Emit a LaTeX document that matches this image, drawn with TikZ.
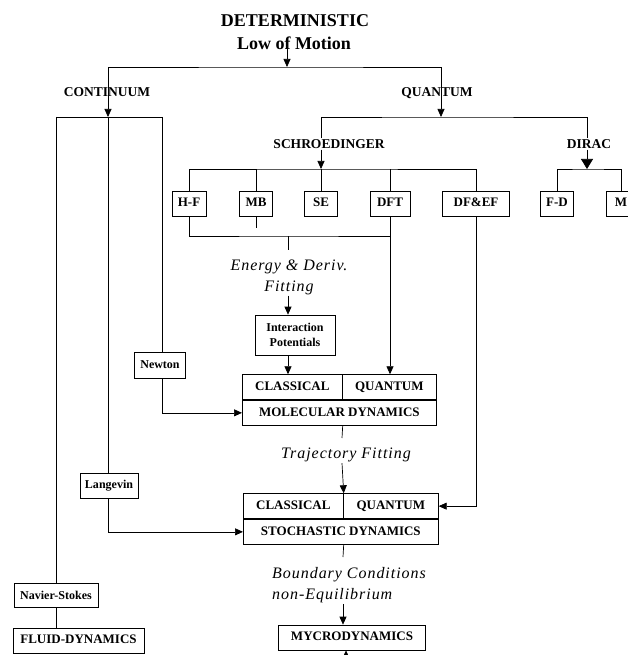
\documentclass[tikz,border=0pt]{standalone}
\usepackage{fontspec}
\setmainfont{Liberation Serif}
\newfontfamily\notefont[LetterSpace=6]{Liberation Serif}
\usetikzlibrary{arrows.meta}
\tikzstyle{heading} = [font=\bfseries\fontsize{18}{21}\selectfont, inner sep=1pt]
\tikzstyle{branch} = [font=\bfseries\fontsize{13.5}{16}\selectfont, inner sep=1pt]
\tikzstyle{method} = [rectangle, draw, line width=0.7pt, text centered, font=\bfseries\fontsize{13}{15}\selectfont, text height=9pt, text depth=2.5pt, minimum height=25pt, inner sep=2pt]
\tikzstyle{named} = [rectangle, draw, line width=0.7pt, align=center, font=\bfseries\fontsize{12}{15}\selectfont, inner sep=2pt]
\tikzstyle{fitting} = [font=\notefont\itshape\fontsize{16}{21}\selectfont, inner sep=1pt]
\tikzstyle{link} = [line width=0.7pt]
\tikzstyle{connector} = [line width=0.7pt, -{Triangle[length=8pt,width=7pt]}]

\begin{document}
\begin{tikzpicture}[x=1pt, y=-1pt]
        \useasboundingbox (0,0) rectangle (628,655);
        \node (det) [heading] at (295,21) {DETERMINISTIC};
        \node (motion) [heading] at (294,43) {Low of Motion};
        \node (cont) [branch] at (107,92) {CONTINUUM};
        \node (quant) [branch] at (437,93) {QUANTUM};
        \node (schr) [branch] at (329,144) {SCHROEDINGER};
        \node (dirac) [branch] at (589,144) {DIRAC};
        \coordinate (top) at (287,67);
        \coordinate (cbar) at (108,117);
        \coordinate (cleft) at (56,117);
        \coordinate (cright) at (162,117);
        \coordinate (qbar) at (441,117);
        \coordinate (sbar) at (321,169);
        \coordinate (dbar) at (587,169);
        \coordinate (ebar) at (288,236);
        \coordinate (estub) at (288,250);
        \coordinate (mbend) at (256,228);
        \coordinate (tstub) at (342,438);
        \coordinate (bstub) at (343,557);
        \coordinate (below) at (346,680);
        % methods under the two wave equations
        \node (hf) [method, minimum width=34pt] at (189,203.5) {H-F};
        \node (mb) [method, minimum width=33pt] at (256,203.5) {MB};
        \node (se) [method, minimum width=33pt] at (321,203.5) {SE};
        \node (dft) [method, minimum width=40pt] at (390,203.5) {DFT};
        \node (dfef) [method, minimum width=67pt] at (476,203.5) {DF\&EF};
        \node (fd) [method, minimum width=33pt] at (557,203.5) {F-D};
        \node (m) [method, minimum width=30pt] at (621,203.5) {M};
        \node (energy) [fitting, align=center] at (289,277) {Energy \& Deriv.\\Fitting};
        \node (pot) [named, minimum width=80pt, minimum height=40pt] at (295,335) {Interaction\\Potentials};
        \node (newton) [named, minimum width=51pt, minimum height=26pt] at (160,365) {Newton};
        \node (md) [method, minimum width=194pt, anchor=north west] at (242,400) {MOLECULAR DYNAMICS};
        \node (mdc) [method, minimum width=100pt, anchor=south west] at (md.north west) {CLASSICAL};
        \node (mdq) [method, minimum width=94pt, anchor=south east] at (md.north east) {QUANTUM};
        \node (traj) [fitting] at (346,455) {Trajectory Fitting};
        \node (lang) [named, minimum width=58pt, minimum height=25pt] at (109,485.5) {Langevin};
        \node (sd) [method, minimum width=195pt, anchor=north west] at (243,519) {STOCHASTIC DYNAMICS};
        \node (sdc) [method, minimum width=100pt, anchor=south west] at (sd.north west) {CLASSICAL};
        \node (sdq) [method, minimum width=95pt, anchor=south east] at (sd.north east) {QUANTUM};
        \node (bound) [fitting, align=left, anchor=west] at (271,585) {Boundary Conditions\\non-Equilibrium};
        \node (ns) [named, minimum width=84pt, minimum height=24pt] at (56,595.5) {Navier-Stokes};
        \node (fluid) [method, minimum width=131pt] at (78.5,640.5) {FLUID-DYNAMICS};
        \node (myc) [method, minimum width=147pt] at (352,637.5) {MYCRODYNAMICS};
        % tree
        \draw [connector] (motion.center -| top) -- (top);
        \draw [link] (cont.north -| cbar) |- (top) -| (quant.north -| qbar);
        \draw [connector] (cont.north -| cbar) -- (cbar);
        \draw [connector] (quant.north -| qbar) -- (qbar);
        \draw [link] (cleft) -- (cright);
        \draw [link] (cleft) -- (cleft |- ns.north);
        \draw [link] (cbar) -- (cbar |- lang.north);
        \draw [link] (cright) -- (cright |- newton.north);
        \draw [link] (schr.north -| sbar) |- (qbar) -| (dirac.north -| dbar);
        \draw [connector] (schr.south -| sbar) -- (sbar);
        \draw [link] (hf.north) |- (sbar) -| (dfef.north);
        \foreach \b in {mb,se,dft}
            \draw [link] (\b.north) -- (\b.north |- sbar);
        \draw [connector, -{Triangle[length=10pt,width=12pt]}] (dirac.south -| dbar) -- (dbar);
        \draw [link] (fd.north) |- (dbar) -| (m.north);
        \draw [link] (hf.south) |- (ebar) -| (dft.south);
        \draw [link] (mb.south) -- (mbend);
        \draw [link] (ebar) -- (estub);
        \draw [connector] (energy.south -| ebar) -- (pot.north -| ebar);
        \draw [connector] (pot.south -| ebar) -- (mdc.north -| ebar);
        \draw [connector] (dft.south) -- (mdq.north -| dft.south);
        \draw [connector] (newton.south -| cright) |- (md.west);
        \draw [link] (md.south -| mdc.east) -- (tstub);
        \draw [connector] (traj.south -| tstub) -- (sdc.north east);
        \draw [connector] (dfef.south) |- (sdq.east);
        \draw [connector] (lang.south -| cbar) |- (sd.west);
        \draw [link] (sd.south -| sdc.east) -- (bstub);
        \draw [connector] (bound.south -| bstub) -- (myc.north -| bstub);
        \draw [connector] (below) -- (myc.south -| below);
        \draw [link] (ns.south) -- (ns.south |- fluid.north);
\end{tikzpicture}
\end{document}
